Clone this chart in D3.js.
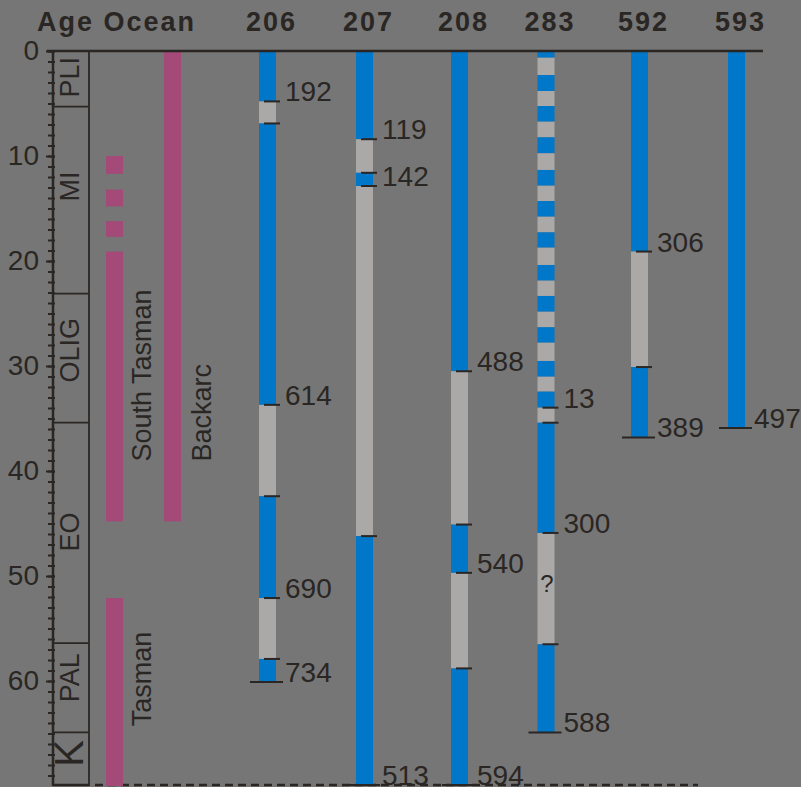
<!DOCTYPE html>
<html><head><meta charset="utf-8">
<script src="https://cdn.jsdelivr.net/npm/d3@7/dist/d3.min.js"></script>
<style>
html,body{margin:0;padding:0;background:#767676;}
svg{display:block;font-family:"Liberation Sans",Arial,sans-serif;}
</style></head>
<body><div id="chart"></div>
<script>
// ---------- DATA ----------
const sites = ["206","207","208","283","592","593"];
const tectonicUnits = ["South Tasman","Backarc","Tasman"];
const southTasmanSegs = [[10,11.7],[13.2,14.8],[16.2,17.7],[19.1,44.8]];
const backarcSegs = [[0,44.8]];
const tasmanSegs = [[52.1,70]];

const epochs = ["PLI","MI","OLIG","EO","PAL","K"];
const epochBounds = [0,5.3,23.1,35.4,56.4,64.9,70];
const epochLabelAges = [2.5,12.9,28.5,45.8,59.7,66.9];

const ageTicksMajor = [0,10,20,30,40,50,60];

// segments: [top age, bottom age, type]  b = blue, g = grey
const site206 = [[0,4.8,"b"],[4.8,6.9,"g"],[6.9,33.7,"b"],[33.7,42.4,"g"],[42.4,52.1,"b"],[52.1,57.9,"g"],[57.9,60.1,"b"]];
const site207 = [[0,8.4,"b"],[8.4,11.6,"g"],[11.6,12.86,"b"],[12.86,46.2,"g"],[46.2,70,"b"]];
const site208 = [[0,30.5,"b"],[30.5,45.1,"g"],[45.1,49.7,"b"],[49.7,58.8,"g"],[58.8,70,"b"]];
const site283 = [[0,0.64,"b"],[0.64,2.29,"g"],[2.29,3.81,"b"],[3.81,5.24,"g"],[5.24,6.73,"b"],[6.73,8.22,"g"],
  [8.22,9.74,"b"],[9.74,11.33,"g"],[11.33,12.83,"b"],[12.83,14.29,"g"],[14.29,15.78,"b"],[15.78,17.27,"g"],
  [17.27,18.73,"b"],[18.73,20.38,"g"],[20.38,21.87,"b"],[21.87,23.33,"g"],[23.33,24.83,"b"],[24.83,26.31,"g"],
  [26.31,27.78,"b"],[27.78,29.52,"g"],[29.52,31.02,"b"],[31.02,32.44,"g"],[32.44,33.97,"b"],[33.97,35.4,"g"],
  [35.4,45.9,"b"],[45.9,56.5,"g"],[56.5,64.9,"b"]];
const site592 = [[0,19.1,"b"],[19.1,30.1,"g"],[30.1,36.8,"b"]];
const site593 = [[0,35.9,"b"]];

// boundary ticks: [age, label]; last entry is the hole bottom
const ticks206 = [[4.8,"192"],[6.9,""],[33.7,"614"],[42.4,""],[52.1,"690"],[57.9,""],[60.1,"734"]];
const ticks207 = [[8.4,"119"],[11.6,""],[12.86,"142"],[46.2,""],[70,"513"]];
const ticks208 = [[30.5,"488"],[45.1,""],[49.7,"540"],[58.8,""],[70,"594"]];
const ticks283 = [[33.97,"13"],[35.4,""],[45.9,"300"],[56.5,""],[64.9,"588"]];
const ticks592 = [[19.1,"306"],[30.1,""],[36.8,"389"]];
const ticks593 = [[35.9,"497"]];

const queryMarks = [["283",51.2,"?"]];

// ---------- LAYOUT ----------
const W = 801, H = 787;
const dark = "#2a2623", blue = "#0077c8", grey = "#aaa9a8", magenta = "#a34a78";
const barW = 17;
const y = d3.scaleLinear().domain([0,70]).range([51,786]);
const xSite = d3.scaleOrdinal().domain(sites).range([267.5,364.5,459.5,546,639.5,736.5]);
const xUnit = d3.scaleOrdinal().domain(tectonicUnits).range([114.5,172.5,114.5]);

const svg = d3.select("#chart").append("svg").attr("width",W).attr("height",H);
svg.append("rect").attr("width",W).attr("height",H).attr("fill","#767676");

const siteData = {"206":[site206,ticks206],"207":[site207,ticks207],"208":[site208,ticks208],
  "283":[site283,ticks283],"592":[site592,ticks592],"593":[site593,ticks593]};

// headers
svg.append("text").attr("x",37).attr("y",31).attr("font-size",27).attr("font-weight","bold")
  .attr("letter-spacing","2px").attr("fill",dark).text("Age Ocean");
svg.selectAll("text.hdr").data(sites).join("text").attr("class","hdr")
  .attr("x",d=>xSite(d)+4).attr("y",31).attr("text-anchor","middle")
  .attr("font-size",27).attr("font-weight","bold").attr("letter-spacing","2px").attr("fill",dark).text(d=>d);

// bottom dashed line
svg.append("line").attr("x1",95).attr("x2",698).attr("y1",y(70)-1).attr("y2",y(70)-1)
  .attr("stroke",dark).attr("stroke-width",2.5).attr("stroke-dasharray","8,5");

// magenta units
const units = [["South Tasman",southTasmanSegs],["Backarc",backarcSegs],["Tasman",tasmanSegs]];
units.forEach(([name,segs])=>{
  svg.append("g").selectAll("rect").data(segs).join("rect")
    .attr("x",xUnit(name)-barW/2).attr("width",barW)
    .attr("y",d=>y(d[0])).attr("height",d=>y(d[1])-y(d[0])).attr("fill",magenta);
});
const unitLabelPos = {"South Tasman":[141,39.1],"Backarc":[201,39.1],"Tasman":[141,64.3]};
tectonicUnits.forEach(name=>{
  const [lx,age] = unitLabelPos[name];
  svg.append("text").attr("transform",`translate(${lx},${y(age)}) rotate(-90)`)
    .attr("dy","0.36em").attr("font-size",27).attr("fill",dark).text(name);
});

// sites
sites.forEach(s=>{
  const [segs,ticks] = siteData[s];
  const cx = xSite(s);
  const g = svg.append("g");
  g.selectAll("rect").data(segs).join("rect")
    .attr("x",cx-barW/2).attr("width",barW)
    .attr("y",d=>y(d[0])).attr("height",d=>y(d[1])-y(d[0]))
    .attr("fill",d=>d[2]==="b"?blue:grey);
  ticks.forEach((t,i)=>{
    const last = i===ticks.length-1;
    const yy = y(t[0]) - (t[0]>=70?1:0);
    g.append("line")
      .attr("x1", last ? cx-barW/2-9 : cx-barW/2+5)
      .attr("x2", last ? cx+barW/2+7 : cx+barW/2+4)
      .attr("y1",yy).attr("y2",yy).attr("stroke",dark).attr("stroke-width",2);
    if(t[1]) g.append("text").attr("x",cx+barW/2+9).attr("y",yy)
      .attr("font-size",28).attr("fill",dark).text(t[1]);
  });
});
queryMarks.forEach(([s,age,txt])=>{
  svg.append("text").attr("x",xSite(s)+1).attr("y",y(age)+3).attr("text-anchor","middle")
    .attr("font-size",24).attr("fill",dark).text(txt);
});

// top line
svg.append("line").attr("x1",47).attr("x2",763).attr("y1",y(0)).attr("y2",y(0))
  .attr("stroke",dark).attr("stroke-width",2.5);

// epoch box
svg.append("line").attr("x1",89).attr("x2",89).attr("y1",y(0)).attr("y2",y(70))
  .attr("stroke",dark).attr("stroke-width",1.8);
svg.selectAll("line.ep").data(epochBounds.slice(1)).join("line").attr("class","ep")
  .attr("x1",53).attr("x2",89).attr("y1",d=>y(d)-(d>=70?1:0)).attr("y2",d=>y(d)-(d>=70?1:0))
  .attr("stroke",dark).attr("stroke-width",d=>d>=70?2.5:1.8);
epochs.forEach((e,i)=>{
  svg.append("text").attr("transform",`translate(69,${y(epochLabelAges[i])}) rotate(-90)`)
    .attr("text-anchor","middle").attr("dy","0.36em")
    .attr("font-size", e==="K"?40:27).attr("fill",dark).text(e);
});

// age axis
const axisG = svg.append("g").attr("transform","translate(55,0)");
axisG.call(d3.axisLeft(y).tickValues(d3.range(0,70,1)).tickSize(7).tickFormat(""));
axisG.append("g").call(d3.axisLeft(y).tickValues(ageTicksMajor).tickSize(9).tickPadding(7)
  .tickFormat(d3.format("d")));
axisG.selectAll(".domain").remove();
axisG.selectAll("line").attr("stroke",dark).attr("stroke-width",2);
axisG.selectAll("text").attr("font-size",28).attr("fill",dark)
  .attr("font-family","Liberation Sans, Arial, sans-serif");
svg.append("line").attr("x1",53).attr("x2",53).attr("y1",y(0)).attr("y2",y(70))
  .attr("stroke",dark).attr("stroke-width",2.5);
</script></body></html>
